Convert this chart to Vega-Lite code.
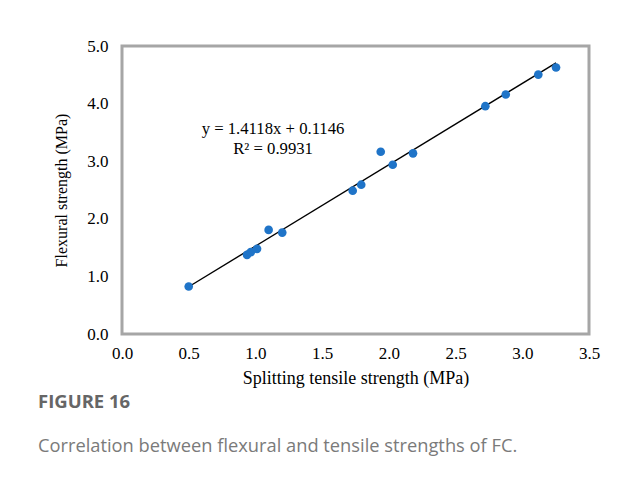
{
  "$schema": "https://vega.github.io/schema/vega-lite/v6.json",
  "width": 467,
  "height": 288,
  "autosize": {"type": "none"},
  "padding": {"left": 122, "top": 46, "right": 52, "bottom": 148},
  "background": "white",
  "config": {
    "view": {"stroke": "#a6a6a6", "strokeWidth": 3},
    "font": "Liberation Serif",
    "axis": {
      "grid": false, "ticks": false, "domain": false, "labelFlush": false,
      "labelFont": "Liberation Serif", "labelFontSize": 17, "labelColor": "#000",
      "titleFont": "Liberation Serif", "titleFontSize": 16, "titleFontWeight": "normal", "titleColor": "#000"
    }
  },
  "title": {
    "text": "FIGURE 16",
    "subtitle": "Correlation between flexural and tensile strengths of FC.",
    "orient": "bottom",
    "anchor": "start",
    "frame": "group",
    "dx": -84,
    "offset": 6,
    "font": "Open Sans",
    "fontSize": 18.5,
    "fontWeight": "bold",
    "color": "#666666",
    "subtitleFont": "Open Sans",
    "subtitleFontSize": 18.3,
    "subtitleColor": "#7a7a7a",
    "subtitlePadding": 26
  },
  "datasets": {
    "pts": [
      {"x": 0.500, "y": 0.825},
      {"x": 0.937, "y": 1.374},
      {"x": 0.965, "y": 1.421},
      {"x": 1.012, "y": 1.478},
      {"x": 1.099, "y": 1.807},
      {"x": 1.201, "y": 1.760},
      {"x": 1.729, "y": 2.488},
      {"x": 1.793, "y": 2.592},
      {"x": 1.939, "y": 3.164},
      {"x": 2.029, "y": 2.938},
      {"x": 2.181, "y": 3.136},
      {"x": 2.723, "y": 3.955},
      {"x": 2.876, "y": 4.158},
      {"x": 3.120, "y": 4.504},
      {"x": 3.253, "y": 4.626}
    ],
    "fit": [
      {"x": 0.5, "y": 0.8205},
      {"x": 3.253, "y": 4.707}
    ],
    "lbl": [
      {"x": 1.132, "y": 3.552, "t": "y = 1.4118x + 0.1146"},
      {"x": 1.132, "y": 3.210, "t": "R² = 0.9931"}
    ]
  },
  "layer": [
    {
      "data": {"name": "fit"},
      "mark": {"type": "line", "color": "#000000", "strokeWidth": 1.4},
      "encoding": {
        "x": {"field": "x", "type": "quantitative", "scale": {"domain": [0, 3.5]},
              "axis": {"values": [0, 0.5, 1, 1.5, 2, 2.5, 3, 3.5], "format": ".1f", "labelPadding": 11,
                       "title": "Splitting tensile strength (MPa)", "titleFontSize": 18, "titlePadding": 8}},
        "y": {"field": "y", "type": "quantitative", "scale": {"domain": [0, 5]},
              "axis": {"values": [0, 1, 2, 3, 4, 5], "format": ".1f", "labelPadding": 14,
                       "title": "Flexural strength (MPa)", "titlePadding": 17}}
      }
    },
    {
      "data": {"name": "pts"},
      "mark": {"type": "circle", "color": "#1f74c8", "opacity": 1, "size": 75},
      "encoding": {
        "x": {"field": "x", "type": "quantitative"},
        "y": {"field": "y", "type": "quantitative"}
      }
    },
    {
      "data": {"name": "lbl"},
      "mark": {"type": "text", "font": "Liberation Serif", "fontSize": 16.7, "color": "#000", "align": "center", "baseline": "middle"},
      "encoding": {
        "x": {"field": "x", "type": "quantitative"},
        "y": {"field": "y", "type": "quantitative"},
        "text": {"field": "t"}
      }
    }
  ]
}
